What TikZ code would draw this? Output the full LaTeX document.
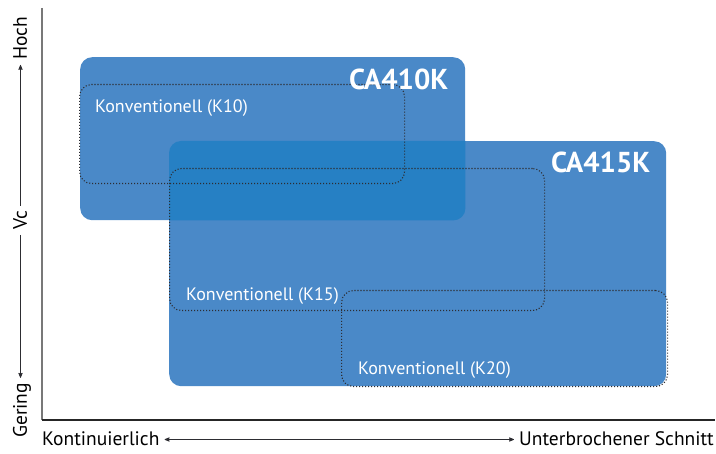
\documentclass[tikz,border=0pt]{standalone}
\usepackage{fontspec}
\setmainfont{PT Sans}
\usetikzlibrary{arrows,positioning}
\definecolor{boxblue}{RGB}{74,137,200}
\definecolor{overlapblue}{RGB}{38,128,196}
\definecolor{dotgray}{RGB}{45,45,50}
\definecolor{axisgray}{RGB}{120,120,120}

\begin{document}
\begin{tikzpicture}[x=1pt,y=-1pt,font=\fontsize{18}{21}\selectfont]
\tikzset{
    %Define standard arrow tip
    >=stealth',
    %Define style for the tool boxes
    werkzeug/.style={
           rectangle,
           rounded corners=12pt,
           fill=boxblue,
           anchor=north west,
           inner sep=0pt},
    %Define style for the dotted ranges
    bereich/.style={
           rectangle,
           rounded corners=12pt,
           draw=dotgray, line width=1.1pt,
           dash pattern=on 1.1pt off 1.9pt,
           anchor=north west,
           inner sep=0pt},
    % Define text styles
    etikett/.style={text=white, inner sep=0pt, anchor=base west},
    typname/.style={text=white, inner sep=0pt, anchor=base east,
           font=\fontsize{28.8}{32}\selectfont\bfseries},
    achse/.style={inner sep=0pt, text height=13pt, text depth=0pt, anchor=base west,
           font=\fontsize{19.5}{22}\selectfont},
    % Define arrow style
    pil/.style={
           ->,
           draw=dotgray,
           line width=0.8pt,
           shorten <=5pt,
           shorten >=5pt,}
}
	\path[use as bounding box] (0,0) rectangle (716,454);

 %boxes
	\node[werkzeug,minimum width=497pt,minimum height=245pt] (ca415) at (169,141) {};
	\node[werkzeug,minimum width=385pt,minimum height=163pt] (ca410) at (80,57) {};
	\begin{scope}
		\clip[rounded corners=12pt] (ca415.north west) rectangle (ca415.south east);
		\fill[overlapblue,rounded corners=12pt] (ca410.north west) rectangle (ca410.south east);
	\end{scope}

	\node[bereich,minimum width=325pt,minimum height=99pt] (k10) at (79,84) {};
	\node[bereich,minimum width=375pt,minimum height=142pt] (k15) at (169,168) {};
	\node[bereich,minimum width=326pt,minimum height=96pt] (k20) at (341,290) {};

 %labels
	\node[etikett] (lk10) at ([shift={(16,29)}]k10.north west) {Konventionell (K10)};
	\node[etikett] (lk15) at ([shift={(17,-11)}]k15.south west) {Konventionell (K15)};
	\node[etikett] (lk20) at ([shift={(17,-13)}]k20.south west) {Konventionell (K20)};

	\node[typname] (nca410) at ([shift={(-17,33)}]ca410.north east) {CA410K};
	\node[typname] (nca415) at ([shift={(-16,32)}]ca415.north east) {CA415K};

 %axes
	\coordinate (origin) at (42,420);
	\coordinate (ytop) at (42,8);
	\coordinate (xend) at (715,420);
	\draw[axisgray,line width=1.3pt] (ytop) -- (origin);
	\draw[black!85,line width=1.3pt] (origin) -- (xend);

	\node[achse,rotate=90] (hoch) at (27,60) {Hoch};
	\node[achse,rotate=90] (vc) at (27,230) {Vc};
	\node[achse,rotate=90] (gering) at (27,438) {Gering};
	\node[achse] (kont) at (42,446) {Kontinuierlich};
	\node[achse,anchor=base east] (unter) at (714,446) {Unterbrochener Schnitt};

	\path (vc) edge[pil] (hoch);
	\path (vc) edge[pil] (gering);
	\path (kont) edge[pil,<->] (unter);

\end{tikzpicture}
\end{document}
